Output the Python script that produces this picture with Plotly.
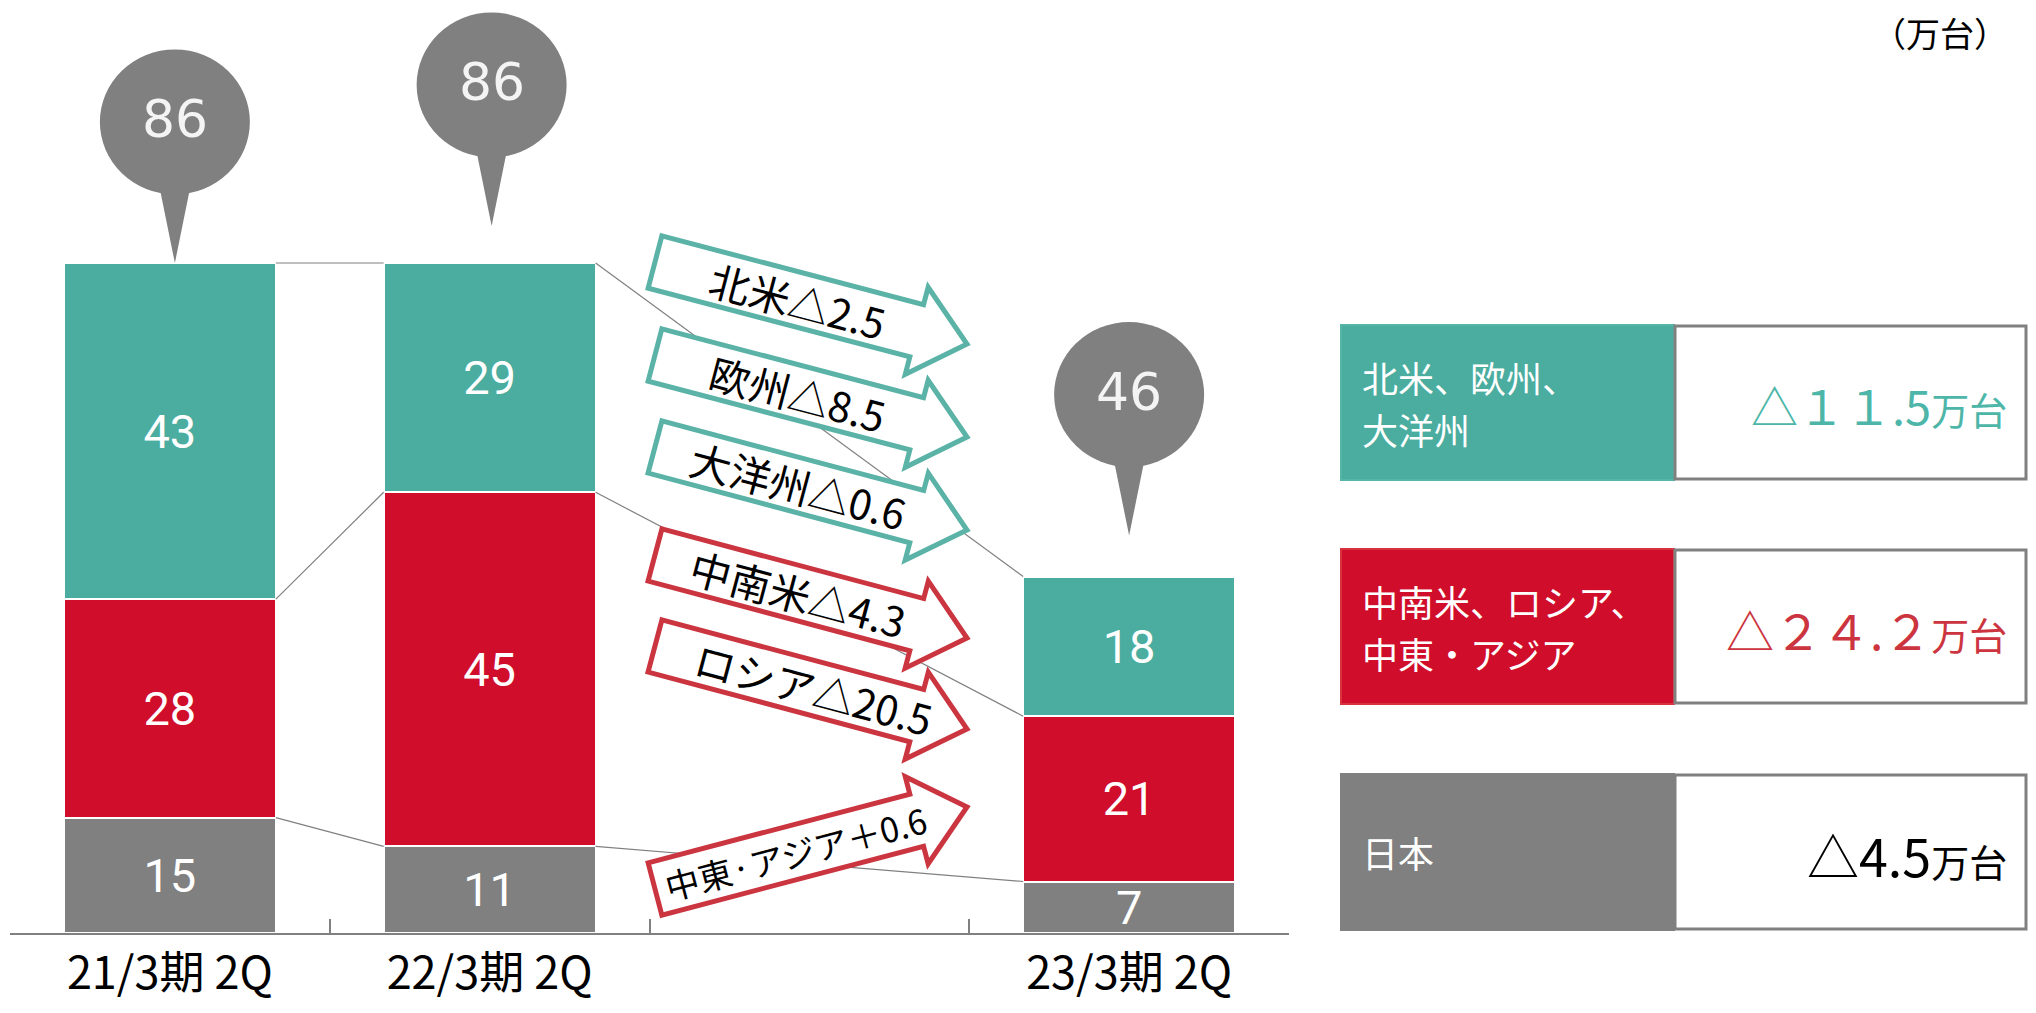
import math
import plotly.graph_objects as go

# ---------------- data ----------------
categories = ["21/3期 2Q", "22/3期 2Q", " ", "23/3期 2Q"]
bar_categories = ["21/3期 2Q", "22/3期 2Q", "23/3期 2Q"]
japan = [14.8, 11.1, 6.6]
latam_russia_me_asia = [28.0, 45.4, 21.2]
na_europe_oceania = [43.1, 29.4, 17.9]

arrow_labels = ["北米△2.5", "欧州△8.5", "大洋州△0.6",
                "中南米△4.3", "ロシア△20.5", "中東·アジア＋0.6"]
arrow_groups = ["teal", "teal", "teal", "red", "red", "red"]

legend_labels = [["北米、欧州、", "大洋州"],
                 ["中南米、ロシア、", "中東・アジア"],
                 ["日本"]]
legend_values = ["△１１.5", "△２４.２", "△4.5"]
legend_unit = "万台"
unit_label = "（万台）"

# ---------------- style ----------------
SCREEN_W, SCREEN_H = 2036, 1013
OFF = 8                       # page body margin (each side)
W, H = SCREEN_W - 2 * OFF, SCREEN_H - 2 * OFF
TEAL = "#4AAD9F"
RED = "#D00D2A"
GRAY = "#808080"
TEAL_LINE = "#5AB3A6"
RED_LINE = "#CB3540"
TEAL_TXT = "#4DB6A8"
RED_TXT = "#CC3540"
FONT = "Noto Sans CJK JP"

X0_PX, X1_PX = 10, 1289       # x-axis extent (screen px)
AXIS_PX = 933                 # axis line (screen px)
PX_PER_UNIT = 7.8
BAR_W = 0.663


def px(x):
    return (x - OFF) / W


def py(y):
    return 1 - (y - OFF) / H


x_dom = [px(X0_PX), px(X1_PX)]
y_dom = [py(AXIS_PX), 1.0]
YMAX = (AXIS_PX - OFF) / PX_PER_UNIT
px_per_cat = (X1_PX - X0_PX) / len(categories)
px_per_unit = PX_PER_UNIT

totals = [a + b + c for a, b, c in zip(japan, latam_russia_me_asia, na_europe_oceania)]
bar_idx = [categories.index(c) for c in bar_categories]

fig = go.Figure()
for name, vals, col in [("日本", japan, GRAY),
                        ("中南米、ロシア、中東・アジア", latam_russia_me_asia, RED),
                        ("北米、欧州、大洋州", na_europe_oceania, TEAL)]:
    fig.add_trace(go.Bar(
        x=bar_categories, y=vals, name=name, width=BAR_W,
        marker=dict(color=col, line=dict(color="white", width=2)),
        texttemplate="%{y:.0f}", textposition="inside", insidetextanchor="middle",
        constraintext="none", textangle=0,
        textfont=dict(family="Roboto", size=47, color="white"),
        hoverinfo="skip",
    ))

shapes = []
annotations = []


def stack_levels(i):
    return [totals[i], japan[i] + latam_russia_me_asia[i], japan[i]]


# connector lines between bars
for a, b in [(0, 1), (1, 2)]:
    la, lb = stack_levels(a), stack_levels(b)
    xa = bar_idx[a] + BAR_W / 2
    xb = bar_idx[b] - BAR_W / 2
    for ya, yb in zip(la, lb):
        shapes.append(dict(type="line", xref="x", yref="y", x0=xa, y0=ya, x1=xb, y1=yb,
                           line=dict(color=GRAY, width=1.2), layer="above"))

# speech bubbles with totals
bubble_gap_px = [0, 37, 41]
bubble_dx_px = [5, 2, 0]
rx = 75 / px_per_cat
ry = 72.5 / px_per_unit
for i, tot in enumerate(totals):
    cx = bar_idx[i] + bubble_dx_px[i] / px_per_cat
    tip = tot + bubble_gap_px[i] / px_per_unit
    cy = tip + 141 / px_per_unit
    shapes.append(dict(type="circle", xref="x", yref="y", x0=cx - rx, x1=cx + rx,
                       y0=cy - ry, y1=cy + ry, fillcolor=GRAY, line=dict(width=0), layer="above"))
    hw = 15 / px_per_cat
    by = tip + 74 / px_per_unit
    shapes.append(dict(type="path", xref="x", yref="y",
                       path=f"M {cx - hw},{by} L {cx + hw},{by} L {cx},{tip} Z",
                       fillcolor=GRAY, line=dict(width=0), layer="above"))
    annotations.append(dict(x=cx, y=cy + 3 / px_per_unit, xref="x", yref="y",
                            xanchor="center", yanchor="middle",
                            text=f"{round(tot)}", showarrow=False,
                            font=dict(family="DejaVu Sans", size=52, color="#F4F4F4")))

# block arrows (screen-pixel geometry)
arrow_geo = [((655, 262), (967, 344)), ((655, 355), (967, 437)), ((655, 447), (967, 530)),
             ((655, 555), (967, 638)), ((655, 646), (967, 729)), ((655, 889), (967, 807))]
text_off = [148, 148, 148, 148, 165, 145]
text_size = [41, 41, 41, 41, 41, 34]


def arrow_path(L, T, h=27, Hh=45, head=52):
    dx, dy = T[0] - L[0], T[1] - L[1]
    ln = math.hypot(dx, dy)
    ux, uy = dx / ln, dy / ln
    nx, ny = -uy, ux
    bl = ln - head
    bx, by = L[0] + ux * bl, L[1] + uy * bl
    pts = [(L[0] - nx * h, L[1] - ny * h), (bx - nx * h, by - ny * h), (bx - nx * Hh, by - ny * Hh),
           T, (bx + nx * Hh, by + ny * Hh), (bx + nx * h, by + ny * h), (L[0] + nx * h, L[1] + ny * h)]
    return "M " + " L ".join(f"{px(x):.5f},{py(y):.5f}" for x, y in pts) + " Z"


for (L, T), lab, grp, off, fs in zip(arrow_geo, arrow_labels, arrow_groups, text_off, text_size):
    col = TEAL_LINE if grp == "teal" else RED_LINE
    shapes.append(dict(type="path", xref="paper", yref="paper", path=arrow_path(L, T),
                       fillcolor="white", line=dict(color=col, width=5), layer="above"))
    dx, dy = T[0] - L[0], T[1] - L[1]
    ln = math.hypot(dx, dy)
    tx, ty = L[0] + dx / ln * off, L[1] + dy / ln * off
    annotations.append(dict(x=px(tx), y=py(ty), xref="paper", yref="paper", text=lab,
                            xanchor="center", yanchor="middle",
                            showarrow=False, textangle=math.degrees(math.atan2(dy, dx)),
                            font=dict(family=FONT, size=fs, color="black")))

# right-hand summary boxes
box_y = [(325, 480), (549, 704), (774, 930)]
box_fill = [TEAL, RED, GRAY]
box_edge = ["#55B5A7", "#D8323F", GRAY]
value_col = [TEAL_TXT, RED_TXT, "black"]
value_size = [47, 48, 52]
LINE_GAP = 52
for (y0, y1), fill, edge, labels, val, vcol, vs in zip(box_y, box_fill, box_edge, legend_labels,
                                                       legend_values, value_col, value_size):
    shapes.append(dict(type="rect", xref="paper", yref="paper", x0=px(1341), x1=px(1674),
                       y0=py(y1), y1=py(y0), fillcolor=fill, line=dict(color=edge, width=2),
                       layer="above"))
    shapes.append(dict(type="rect", xref="paper", yref="paper", x0=px(1675), x1=px(2026),
                       y0=py(y1 - 1), y1=py(y0 + 1), fillcolor="white",
                       line=dict(color=GRAY, width=3), layer="above"))
    mid = (y0 + y1) / 2
    n = len(labels)
    for k, lab in enumerate(labels):
        ly = mid + (k - (n - 1) / 2) * LINE_GAP
        annotations.append(dict(x=px(1360), y=py(ly), xref="paper", yref="paper", text=lab,
                                showarrow=False, xanchor="left", yanchor="middle",
                                font=dict(family=FONT, size=36, color="white")))
    annotations.append(dict(x=px(2009), y=py(mid + 2), xref="paper", yref="paper",
                            text=f"{val}<span style='font-size:38px'>{legend_unit}</span>",
                            showarrow=False, xanchor="right", yanchor="middle",
                            font=dict(family=FONT, size=vs, color=vcol)))

annotations.append(dict(x=px(2010), y=py(32), xref="paper", yref="paper", text=unit_label,
                        showarrow=False, xanchor="right", yanchor="middle",
                        font=dict(family=FONT, size=34, color="black")))

fig.update_layout(
    width=W, height=H, autosize=False,
    margin=dict(l=0, r=0, t=0, b=0, pad=0),
    barmode="stack", showlegend=False,
    paper_bgcolor="white", plot_bgcolor="white",
    xaxis=dict(type="category", categoryorder="array", categoryarray=categories,
               range=[-0.5, len(categories) - 0.5], domain=x_dom, automargin=False,
               tickson="boundaries", ticks="inside", ticklen=14, tickwidth=1.5, tickcolor=GRAY,
               showline=True, linecolor=GRAY, linewidth=2, showgrid=False,
               tickfont=dict(family=FONT, size=45, color="black"), ticklabelstandoff=0),
    yaxis=dict(range=[0, YMAX], domain=y_dom, visible=False, showgrid=False, zeroline=False,
               automargin=False),
    shapes=shapes, annotations=annotations,
    font=dict(family=FONT),
)

fig.write_html("out.html")
